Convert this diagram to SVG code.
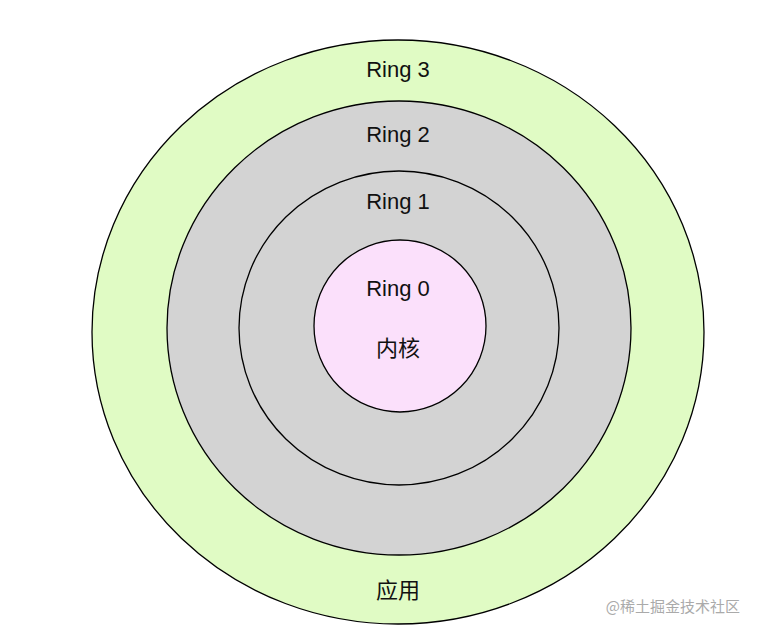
<svg xmlns="http://www.w3.org/2000/svg" width="759" height="635" viewBox="0 0 759 635">
<style>
.r{stroke:#000;stroke-width:1.3}
.t{font-family:"Liberation Sans","Noto Sans CJK SC",sans-serif;font-size:22px;fill:#111;text-anchor:middle}
</style>
<rect width="759" height="635" fill="#fff"/>
<g id="ring3"><ellipse class="r" cx="398" cy="332" rx="306" ry="292" fill="#e0fbc4"/><text class="t" x="398" y="77">Ring 3</text><text class="t" x="398" y="598">应用</text></g>
<g id="ring2"><ellipse class="r" cx="399" cy="328" rx="232" ry="227" fill="#d3d3d3"/><text class="t" x="398" y="142">Ring 2</text></g>
<g id="ring1"><ellipse class="r" cx="399" cy="328" rx="160" ry="157" fill="#d3d3d3"/><text class="t" x="398" y="209">Ring 1</text></g>
<g id="ring0"><ellipse class="r" cx="400" cy="326" rx="86" ry="86" fill="#fbe0fb"/><text class="t" x="398" y="296">Ring 0</text><text class="t" x="398" y="356">内核</text></g>
<text x="740" y="612" font-family="'Noto Sans CJK SC',sans-serif" font-size="15" fill="#aaa" text-anchor="end">@稀土掘金技术社区</text>
</svg>
